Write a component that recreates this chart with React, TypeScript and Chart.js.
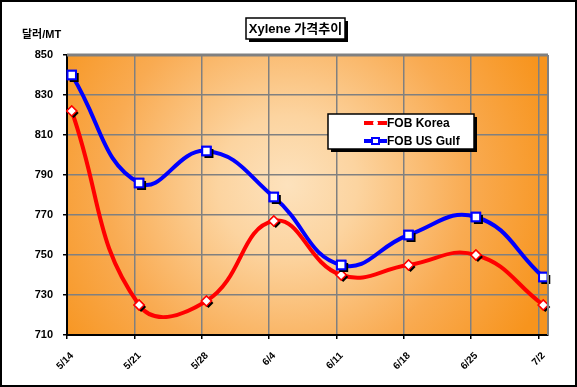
import React, { useEffect, useRef } from "react";
import { Chart, registerables } from "chart.js";

Chart.register(...registerables);

const labels = ["5/14", "5/21", "5/28", "6/4", "6/11", "6/18", "6/25", "7/2"];
const korea = [822, 725, 727, 767, 740, 745, 750, 725];
const usGulf = [840, 786, 802, 779, 745, 760, 769, 739];
const seriesNames = ["FOB Korea", "FOB US Gulf"];
const titleText = "Xylene 가격추이";
const unitText = "달러/MT";
const yMin = 710;
const yMax = 850;
const yStep = 20;
// data points sit slightly after each weekly tick (fraction of a week)
const pointShift = 0.07;

const FONT = "Arial, 'Liberation Sans', 'Noto Sans CJK KR', sans-serif";

const decorPlugin = {
  id: "decor",
  beforeDraw(chart: any) {
    const { ctx, chartArea: a, width, height } = chart;
    ctx.save();
    ctx.fillStyle = "#ffffff";
    ctx.fillRect(0, 0, width, height);
    ctx.strokeStyle = "#000";
    ctx.lineWidth = 2;
    ctx.strokeRect(1, 1, width - 2, height - 2);
    const cx = (a.left + a.right) / 2 - 20;
    const cy = (a.top + a.bottom) / 2 - 10;
    const r = Math.hypot(a.right - a.left, a.bottom - a.top) / 2;
    const g = ctx.createRadialGradient(cx, cy, 0, cx, cy, r);
    g.addColorStop(0, "#fde2bd");
    g.addColorStop(0.25, "#fcd4a0");
    g.addColorStop(0.65, "#f9ab52");
    g.addColorStop(1, "#f7941d");
    ctx.fillStyle = g;
    ctx.fillRect(a.left, a.top, a.right - a.left, a.bottom - a.top);
    ctx.restore();
  },
  afterDraw(chart: any) {
    const { ctx, chartArea: a } = chart;
    ctx.save();
    ctx.strokeStyle = "#808080";
    ctx.lineWidth = 3;
    ctx.beginPath();
    ctx.moveTo(a.left, a.top);
    ctx.lineTo(a.right, a.top);
    ctx.stroke();
    ctx.lineWidth = 2;
    ctx.beginPath();
    ctx.moveTo(a.right, a.top);
    ctx.lineTo(a.right, a.bottom);
    ctx.stroke();

    ctx.fillStyle = "#000";
    ctx.font = `bold 11px ${FONT}`;
    ctx.textBaseline = "middle";
    ctx.textAlign = "left";
    ctx.fillText(unitText, 22, 35);

    ctx.font = `bold 13px ${FONT}`;
    const tw = ctx.measureText(titleText).width;
    const tcx = 295.5;
    const tcy = 28.5;
    const bx = Math.round(tcx - tw / 2 - 3);
    const bw = Math.round(tw + 6);
    const by = 18;
    const bh = 21;
    ctx.fillStyle = "#000";
    ctx.fillRect(bx + 3, by + 3, bw, bh);
    ctx.fillStyle = "#fff";
    ctx.fillRect(bx, by, bw, bh);
    ctx.strokeStyle = "#000";
    ctx.lineWidth = 1.5;
    ctx.strokeRect(bx, by, bw, bh);
    ctx.fillStyle = "#000";
    ctx.textAlign = "center";
    ctx.fillText(titleText, tcx, tcy + 1);

    const lx = 328, ly = 114, lw = 146, lh = 35;
    ctx.fillStyle = "#000";
    ctx.fillRect(lx + 3, ly + 3, lw, lh);
    ctx.fillStyle = "#fff";
    ctx.fillRect(lx, ly, lw, lh);
    ctx.lineWidth = 1.5;
    ctx.strokeRect(lx, ly, lw, lh);
    const colors = ["#ff0000", "#0000ff"];
    const styles = ["rectRot", "rect"];
    seriesNames.forEach((name, i) => {
      const yy = 123 + i * 18;
      ctx.strokeStyle = colors[i];
      ctx.lineWidth = 4;
      ctx.beginPath();
      ctx.moveTo(364, yy);
      ctx.lineTo(387, yy);
      ctx.stroke();
      ctx.fillStyle = "#fff";
      ctx.lineWidth = 2;
      if (styles[i] === "rect") {
        ctx.fillRect(372, yy - 3, 7, 6);
        ctx.strokeRect(372, yy - 3, 7, 6);
      } else {
        ctx.beginPath();
        ctx.arc(375.5, yy, 2.5, 0, Math.PI * 2);
        ctx.fill();
      }
      ctx.fillStyle = "#000";
      ctx.font = `bold 12px ${FONT}`;
      ctx.textAlign = "left";
      ctx.fillText(name, 387, yy + 1);
    });
    ctx.restore();
  },
  afterDatasetsDraw(chart: any) {
    const { ctx, chartArea } = chart;
    chart.data.datasets.forEach((ds: any, di: number) => {
      const meta = chart.getDatasetMeta(di);
      meta.data.forEach((pt: any) => {
        ctx.save();
        ctx.fillStyle = "#000";
        ctx.beginPath();
        if (ds.pointStyle === "rect") {
          ctx.fillRect(pt.x - 2, pt.y - 2, 9, 9);
        } else {
          ctx.moveTo(pt.x + 2, pt.y - 3);
          ctx.lineTo(pt.x + 7, pt.y + 2);
          ctx.lineTo(pt.x + 2, pt.y + 7);
          ctx.lineTo(pt.x - 3, pt.y + 2);
          ctx.closePath();
          ctx.fill();
        }
        ctx.restore();
        pt.draw(ctx, chartArea);
      });
    });
  },
};

export default function App() {
  const ref = useRef<HTMLCanvasElement | null>(null);
  useEffect(() => {
    document.body.style.margin = "0";
    if (!ref.current) return;
    const chart = new Chart(ref.current, {
      type: "line",
      data: {
        datasets: [
          {
            label: seriesNames[0],
            data: korea.map((v, i) => ({ x: i + pointShift, y: v })),
            borderColor: "#ff0000",
            borderWidth: 4,
            tension: 0.45,
            pointStyle: "rectRot",
            pointRadius: 5,
            pointBackgroundColor: "#ffffff",
            pointBorderColor: "#ff0000",
            pointBorderWidth: 1.5,
          },
          {
            label: seriesNames[1],
            data: usGulf.map((v, i) => ({ x: i + pointShift, y: v })),
            borderColor: "#0000ff",
            borderWidth: 4,
            tension: 0.45,
            pointStyle: "rect",
            pointRadius: 6,
            pointBackgroundColor: "#ffffff",
            pointBorderColor: "#0000ff",
            pointBorderWidth: 2,
          },
        ],
      },
      options: {
        animation: false,
        responsive: false,
        layout: { padding: { top: 55, right: 29, left: 0, bottom: 0 } },
        plugins: {
          legend: { display: false },
          title: { display: false },
          tooltip: { enabled: false },
        },
        scales: {
          x: {
            type: "linear",
            min: 0,
            max: 7.14,
            afterBuildTicks: (scale: any) => {
              scale.ticks = labels.map((_, i) => ({ value: i }));
            },
            afterFit: (scale: any) => {
              scale.height = 52;
            },
            ticks: {
              autoSkip: false,
              minRotation: 45,
              maxRotation: 45,
              padding: 11,
              labelOffset: 5,
              color: "#000",
              font: { family: FONT, size: 10, weight: "bold" },
              callback: (v: any) => labels[v] ?? "",
            },
            grid: {
              color: "#808080",
              lineWidth: 1.5,
              tickColor: "#000",
              tickLength: 4,
            },
            border: { color: "#000", width: 2 },
          },
          y: {
            min: yMin,
            max: yMax,
            afterFit: (scale: any) => {
              scale.width = 67;
            },
            ticks: {
              stepSize: yStep,
              padding: 10,
              color: "#000",
              font: { family: FONT, size: 11, weight: "bold" },
            },
            grid: {
              color: "#808080",
              lineWidth: 1.5,
              tickColor: "#000",
              tickLength: 4,
            },
            border: { color: "#000", width: 2 },
          },
        },
      },
      plugins: [decorPlugin],
    });
    return () => chart.destroy();
  }, []);
  return (
    <div style={{ width: 577, height: 387 }}>
      <canvas ref={ref} width={577} height={387} />
    </div>
  );
}
